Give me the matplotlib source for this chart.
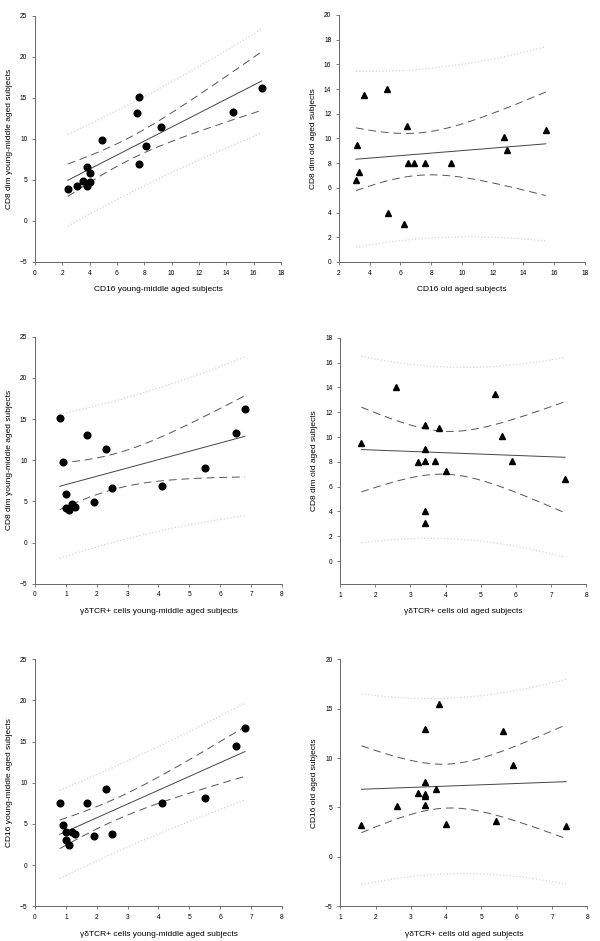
import numpy as np
import matplotlib
matplotlib.use('Agg')
import matplotlib.pyplot as plt

plt.rcParams['font.family'] = ['Liberation Sans', 'DejaVu Sans']

# young-middle aged subjects (15)
gd_young = [0.8, 0.9, 1.0, 1.0, 1.1, 1.2, 1.3, 1.7, 1.9, 2.3, 2.5, 4.1, 5.5, 6.5, 6.8]
cd8dim_young = [15.1, 9.8, 5.9, 4.2, 3.9, 4.7, 4.3, 13.1, 4.9, 11.4, 6.6, 6.9, 9.1, 13.3, 16.2]
cd16_young = [7.6, 4.9, 4.0, 3.1, 2.4, 4.0, 3.8, 7.5, 3.5, 9.2, 3.8, 7.6, 8.1, 14.5, 16.6]

# old aged subjects (15)
gd_old = [1.6, 2.6, 3.2, 3.4, 3.4, 3.4, 3.4, 3.4, 3.7, 3.8, 4.0, 5.4, 5.6, 5.9, 7.4]
cd8dim_old = [9.5, 14.0, 8.0, 11.0, 9.05, 8.05, 4.0, 3.05, 8.05, 10.7, 7.25, 13.5, 10.1, 8.05, 6.65]
cd16_old = [3.2, 5.1, 6.5, 6.4, 12.9, 7.6, 5.2, 6.2, 6.9, 15.45, 3.3, 3.6, 12.7, 9.3, 3.1]

T_975 = 2.160  # t quantile, 13 df


def fit_bands(x, y, xs):
    x = np.asarray(x, float)
    y = np.asarray(y, float)
    n = len(x)
    b, a = np.polyfit(x, y, 1)
    resid = y - (a + b * x)
    s = np.sqrt(np.sum(resid ** 2) / (n - 2))
    sxx = np.sum((x - x.mean()) ** 2)
    yhat = a + b * xs
    se_mean = s * np.sqrt(1.0 / n + (xs - x.mean()) ** 2 / sxx)
    se_pred = s * np.sqrt(1 + 1.0 / n + (xs - x.mean()) ** 2 / sxx)
    return yhat, T_975 * se_mean, T_975 * se_pred


def panel(ax, x, y, marker, xlabel, ylabel, xlim, xticks, ylim, yticks):
    xs = np.linspace(min(x), max(x), 200)
    yhat, ci, pi = fit_bands(x, y, xs)
    # prediction band (dotted), confidence band (dashed), fit
    ax.plot(xs, yhat + pi, color='#d4d4d4', lw=0.9, ls=':')
    ax.plot(xs, yhat - pi, color='#d4d4d4', lw=0.9, ls=':')
    ax.plot(xs, yhat + ci, color='#555555', lw=0.7, ls=(0, (8, 5)))
    ax.plot(xs, yhat - ci, color='#555555', lw=0.7, ls=(0, (8, 5)))
    ax.plot(xs, yhat, color='#444444', lw=0.7)
    ax.plot(x, y, marker, color='black', ms=4.8, ls='none', clip_on=False)
    ax.set_xlim(xlim)
    ax.set_ylim(ylim)
    ax.set_xticks(xticks)
    ax.set_yticks(yticks)
    for side in ['top', 'right']:
        ax.spines[side].set_visible(False)
    for side in ['left', 'bottom']:
        ax.spines[side].set_color('#666666')
        ax.spines[side].set_linewidth(0.7)
    ax.tick_params(direction='out', length=2.5, width=0.6, color='#666666',
                   labelsize=4.8, pad=3)
    ax.set_xlabel(xlabel, fontsize=6, labelpad=7)
    ax.set_ylabel(ylabel, fontsize=6, labelpad=5)


fig = plt.figure(figsize=(6, 9.41), dpi=100)

ax1 = fig.add_axes([0.0583, 0.7216, 0.410, 0.2617])
panel(ax1, cd16_young, cd8dim_young, 'o', 'CD16 young-middle aged subjects',
      'CD8 dim young-middle aged subjects', (0, 18), range(0, 19, 2), (-5, 25), range(-5, 26, 5))

ax2 = fig.add_axes([0.565, 0.7216, 0.410, 0.2625])
panel(ax2, cd16_old, cd8dim_old, '^', 'CD16 old aged subjects',
      'CD8 dim old aged subjects', (2, 18), range(2, 19, 2), (0, 20), range(0, 21, 2))

ax3 = fig.add_axes([0.0583, 0.3797, 0.4117, 0.2625])
panel(ax3, gd_young, cd8dim_young, 'o', 'γδTCR+ cells young-middle aged subjects',
      'CD8 dim young-middle aged subjects', (0, 8), range(0, 9), (-5, 25), range(-5, 26, 5))

ax4 = fig.add_axes([0.567, 0.3794, 0.410, 0.2616])
panel(ax4, gd_old, cd8dim_old, '^', 'γδTCR+ cells old aged subjects',
      'CD8 dim old aged subjects', (1, 8), range(1, 9), (-1.85, 18), range(0, 19, 2))

ax5 = fig.add_axes([0.0583, 0.0369, 0.4117, 0.2625])
panel(ax5, gd_young, cd16_young, 'o', 'γδTCR+ cells young-middle aged subjects',
      'CD16 young-middle aged subjects', (0, 8), range(0, 9), (-5, 25), range(-5, 26, 5))

ax6 = fig.add_axes([0.567, 0.0369, 0.412, 0.2625])
panel(ax6, gd_old, cd16_old, '^', 'γδTCR+ cells old aged subjects',
      'CD16 old aged subjects', (1, 8), range(1, 9), (-5, 20), range(-5, 21, 5))

fig.savefig('out.png', dpi=100)
